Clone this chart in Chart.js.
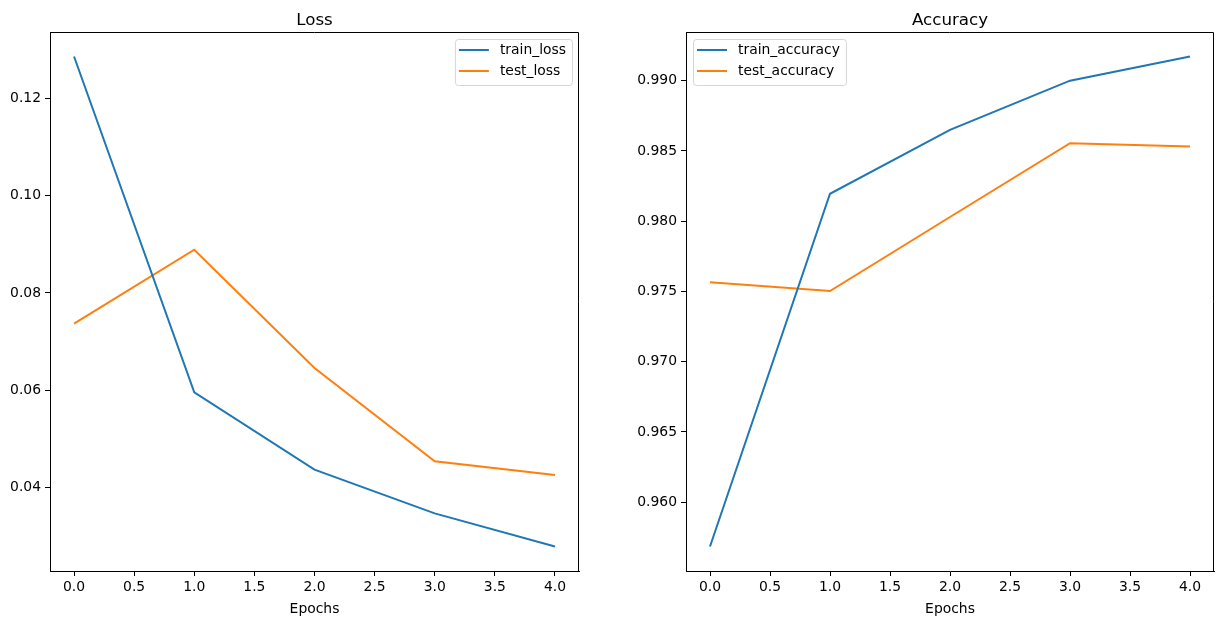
<!DOCTYPE html>
<html>
<head>
<meta charset="utf-8">
<script src="https://cdn.jsdelivr.net/npm/chart.js@4.4.1/dist/chart.umd.min.js"></script>
<style>
  body { margin: 0; background: #fff; }
  #wrap { position: relative; width: 1222px; height: 624px; }
  .panel { position: absolute; top: 0; }
</style>
</head>
<body>
<div id="wrap">
  <canvas id="lossChart" class="panel" style="left:0" width="611" height="624"></canvas>
  <canvas id="accChart" class="panel" style="left:611px" width="611" height="624"></canvas>
</div>
<script>
// datos
const epochs = [0, 1, 2, 3, 4];
const xTicks = [0, 0.5, 1, 1.5, 2, 2.5, 3, 3.5, 4];

const trainLoss = [0.1286, 0.0596, 0.0437, 0.0347, 0.0279];
const testLoss = [0.0737, 0.0889, 0.0646, 0.0454, 0.0426];
const lossTicks = [0.04, 0.06, 0.08, 0.10, 0.12];

const trainAcc = [0.95685, 0.98195, 0.98650, 0.99000, 0.99172];
const testAcc = [0.97565, 0.97503, 0.98030, 0.98555, 0.98532];
const accTicks = [0.960, 0.965, 0.970, 0.975, 0.980, 0.985, 0.990];

const BLUE = '#1f77b4';
const ORANGE = '#ff7f0e';
const FONT = 'DejaVu Sans';

// margen del 5% como matplotlib
function withMargin(values) {
    const lo = Math.min(...values), hi = Math.max(...values);
    const m = (hi - lo) * 0.05;
    return [lo - m, hi + m];
}

// bordes superior/derecho + titulo centrado en el area
const framePlugin = {
    id: 'frame',
    afterDraw(chart, args, opts) {
        const a = chart.chartArea, ctx = chart.ctx;
        const t = Math.round(a.top) + 0.5, r = Math.round(a.right) - 0.5;
        ctx.save();
        ctx.strokeStyle = '#000';
        ctx.lineWidth = 1;
        ctx.beginPath();
        ctx.moveTo(a.left, t);
        ctx.lineTo(r, t);
        ctx.lineTo(r, a.bottom);
        ctx.stroke();
        ctx.fillStyle = '#000';
        ctx.font = '16.7px "' + FONT + '"';
        ctx.textAlign = 'center';
        ctx.textBaseline = 'alphabetic';
        ctx.fillText(opts.text, (a.left + a.right) / 2, a.top - 7);
        ctx.restore();
    }
};

// leyenda dentro del area, estilo matplotlib
const boxLegendPlugin = {
    id: 'boxLegend',
    afterDraw(chart, args, opts) {
        const a = chart.chartArea, ctx = chart.ctx;
        const sets = chart.data.datasets;
        ctx.save();
        ctx.font = '13.9px "' + FONT + '"';
        const textW = Math.max(...sets.map(d => ctx.measureText(d.label).width));
        const w = 4 + 30 + 11 + textW + 6;
        const h = 46;
        const x = opts.side === 'right' ? a.right - 7 - w : a.left + 7;
        const y = a.top + 7;
        ctx.beginPath();
        ctx.roundRect(x + 0.5, y + 0.5, w, h, 3);
        ctx.fillStyle = 'rgba(255,255,255,0.8)';
        ctx.fill();
        ctx.strokeStyle = 'rgba(204,204,204,0.8)';
        ctx.lineWidth = 1;
        ctx.stroke();
        sets.forEach((d, i) => {
            const cy = y + 11 + i * 21;
            ctx.beginPath();
            ctx.moveTo(x + 4, cy);
            ctx.lineTo(x + 34, cy);
            ctx.strokeStyle = d.borderColor;
            ctx.lineWidth = 2;
            ctx.stroke();
            ctx.fillStyle = '#000';
            ctx.textBaseline = 'middle';
            ctx.fillText(d.label, x + 45, cy);
        });
        ctx.restore();
    }
};

function makeChart(id, title, sets, yTicks, decimals, yWidth, padRight, legendSide) {
    const allY = [].concat(...sets.map(s => s.values));
    const [yMin, yMax] = withMargin(allY);
    const [xMin, xMax] = withMargin(epochs);
    const tickFont = { family: FONT, size: 13.9 };

    return new Chart(document.getElementById(id), {
        type: 'line',
        data: {
            datasets: sets.map(s => ({
                label: s.label,
                data: s.values.map((v, i) => ({ x: epochs[i], y: v })),
                borderColor: s.color,
                backgroundColor: s.color,
                borderWidth: 2,
                pointRadius: 0,
                tension: 0,
                fill: false
            }))
        },
        options: {
            responsive: false,
            animation: false,
            layout: { padding: { left: 0, right: padRight, top: 32, bottom: 0 } },
            scales: {
                x: {
                    type: 'linear',
                    min: xMin, max: xMax,
                    afterBuildTicks: s => { s.ticks = xTicks.map(v => ({ value: v })); },
                    afterFit: s => { s.height = 53; },
                    ticks: { color: '#000', font: tickFont, padding: 3, maxRotation: 0, autoSkip: false,
                             callback: v => Number(v).toFixed(1) },
                    grid: { drawOnChartArea: false, drawTicks: true, tickLength: 5, color: '#000' },
                    border: { display: true, color: '#000', width: 1 },
                    title: { display: true, text: 'Epochs', color: '#000', font: tickFont, padding: { top: 4, bottom: 6 } }
                },
                y: {
                    type: 'linear',
                    min: yMin, max: yMax,
                    afterBuildTicks: s => { s.ticks = yTicks.map(v => ({ value: v })); },
                    afterFit: s => { s.width = yWidth; },
                    ticks: { color: '#000', font: tickFont, padding: 4, autoSkip: false,
                             callback: v => Number(v).toFixed(decimals) },
                    grid: { drawOnChartArea: false, drawTicks: true, tickLength: 5, color: '#000' },
                    border: { display: true, color: '#000', width: 1 }
                }
            },
            plugins: {
                legend: { display: false },
                tooltip: { enabled: false },
                title: { display: false },
                frame: { text: title },
                boxLegend: { side: legendSide }
            }
        },
        plugins: [framePlugin, boxLegendPlugin]
    });
}

makeChart('lossChart', 'Loss', [
    { label: 'train_loss', values: trainLoss, color: BLUE },
    { label: 'test_loss', values: testLoss, color: ORANGE }
], lossTicks, 2, 50, 32, 'right');

makeChart('accChart', 'Accuracy', [
    { label: 'train_accuracy', values: trainAcc, color: BLUE },
    { label: 'test_accuracy', values: testAcc, color: ORANGE }
], accTicks, 3, 75, 8, 'left');
</script>
</body>
</html>
